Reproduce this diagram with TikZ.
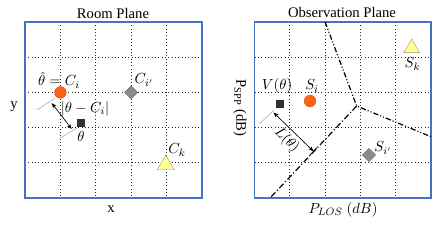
\documentclass[tikz,border=0pt]{standalone}
\usepackage{fontspec}
\setmainfont{Liberation Serif}
\usepackage{xcolor}
\usetikzlibrary{arrows.meta,positioning,calc,shapes.geometric}
\definecolor{planeblue}{RGB}{68,114,196}
\definecolor{markorange}{RGB}{250,100,20}
\definecolor{markgray}{RGB}{140,140,140}
\definecolor{markyellow}{RGB}{255,255,150}
\definecolor{markdark}{RGB}{50,50,50}

\begin{document}
\begin{tikzpicture}[
  x=0.75pt, y=-0.75pt,
  font=\fontsize{11}{13}\selectfont,
  lbl/.style={inner sep=0.5pt},
  plane/.style={draw=planeblue, line width=0.9pt},
  gridline/.style={dotted, line width=0.5pt, black!85},
  cmark/.style={circle, fill=markorange, draw=markorange!85!black,
                line width=0.3pt, minimum size=8.8pt, inner sep=0pt},
  dmark/.style={diamond, fill=markgray, draw=markgray!75!black,
                line width=0.3pt, minimum size=10pt, inner sep=0pt},
  smark/.style={rectangle, fill=markdark, minimum size=6pt, inner sep=0pt},
  tmark/.style={regular polygon, regular polygon sides=3, fill=markyellow,
                draw=markyellow!60!black, line width=0.3pt,
                minimum size=14.7pt, inner sep=0pt},
  extline/.style={gray!70, line width=0.4pt},
  dimline/.style={{Stealth[length=4pt,width=3pt]}-{Stealth[length=4pt,width=3pt]},
                  line width=0.5pt},
  border/.style={line width=0.9pt,
                 dash pattern=on 4pt off 1.5pt on 0.8pt off 1.5pt on 0.8pt off 1.5pt},
  borderlow/.style={line width=0.9pt,
                    dash pattern=on 4.5pt off 1.8pt on 0.8pt off 1.8pt},
]
\useasboundingbox (0,0) rectangle (443,247);

% room plane
\foreach \k in {1,...,4}{
  \draw[gridline] (25+35.4*\k,22) -- (25+35.4*\k,198);
  \draw[gridline] (25,22+35.2*\k) -- (202,22+35.2*\k);
}
\draw[plane] (25,22) rectangle (202,198);
\node[lbl] (troom) at (113,13) {Room Plane};
\node[lbl] (lx) at (111,209) {x};
\node[lbl] (ly) at (14,107) {y};

\node[cmark] (ci) at (60.4,92.4) {};
\node[dmark] (cip) at (131.2,92.4) {};
\node[smark] (th) at (80.7,122.7) {};
\node[tmark] (ck) at (165.7,164.8) {};

\node[lbl] (lci) at (59,80) {$\hat{\theta}=C_i$};
\node[lbl] (lcip) at (144,80) {$C_{i'}$};
\node[lbl] (ldist) at (85,108.5) {$|\theta-C_i|$};
\node[lbl] (lth) at (81,136) {$\theta$};
\node[lbl] (lck) at (177,150) {$C_k$};

\coordinate (ea1) at (36.7,110);
\coordinate (ea2) at (55,98.3);
\coordinate (eb1) at (60,138);
\coordinate (eb2) at (77,128);
\coordinate (da) at (51.7,103);
\coordinate (db) at (71.7,129);
\draw[extline] (ea1) -- (ea2);
\draw[extline] (eb1) -- (eb2);
\draw[dimline] (da) -- (db);

% observation plane
\foreach \k in {1,...,4}{
  \draw[gridline] (254.5+35.3*\k,22) -- (254.5+35.3*\k,198);
  \draw[gridline] (254.5,22+35.2*\k) -- (431,22+35.2*\k);
}
\draw[plane] (254.5,22) rectangle (431,198);
\node[lbl] (tobs) at (342,12) {Observation Plane};
\node[lbl] (lplos) at (343,210) {$P_{LOS}\;(dB)$};
\node[lbl, rotate=-90] (lpspp) at (240,108) {P\textsubscript{SPP} (dB)};

\coordinate (btop) at (325.1,22);
\coordinate (bvtx) at (356.7,106);
\coordinate (bright) at (431,136.7);
\coordinate (blow) at (270,198);
\draw[border] (btop) -- (bvtx) -- (bright);
\draw[borderlow] (bvtx) -- (blow);

\node[smark] (vt) at (280,104.3) {};
\node[cmark] (si) at (310,101) {};
\node[tmark, minimum size=13.7pt] (sk) at (411.7,48.1) {};
\node[dmark] (sip) at (369,155) {};

\node[lbl] (lv) at (277,86) {$V(\theta)$};
\node[lbl] (lsi) at (312,86) {$S_i$};
\node[lbl] (lsk) at (412.5,64) {$S_k$};
\node[lbl] (lsip) at (383,148) {$S_{i'}$};
\node[lbl, rotate=-46] (ll) at (286.7,140) {$L(\theta)$};

\coordinate (ec1) at (259.3,124);
\coordinate (ec2) at (274,110);
\coordinate (dc) at (273.5,112.5);
\coordinate (dd) at (313.5,151.3);
\coordinate (tk1) at (317,147.6);
\coordinate (tk2) at (310.1,154.9);
\draw[extline] (ec1) -- (ec2);
\draw[line width=0.6pt] (tk1) -- (tk2);
\draw[dimline] (dc) -- (dd);

\end{tikzpicture}
\end{document}
